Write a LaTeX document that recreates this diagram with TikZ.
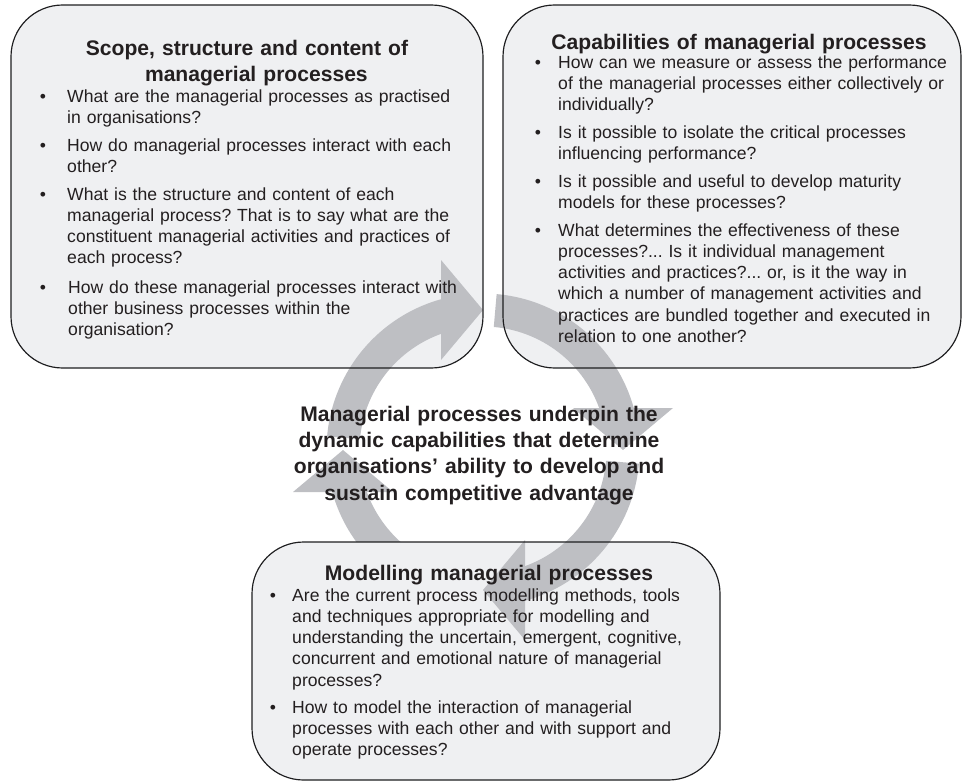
\documentclass[tikz,border=0pt]{standalone}
\usepackage{fontspec}
\setmainfont{Liberation Sans}
\usetikzlibrary{calc}
\definecolor{panelFill}{RGB}{239, 240, 242}
\definecolor{panelEdge}{RGB}{30, 30, 32}
\definecolor{ringGrey}{RGB}{190, 191, 195}
\definecolor{inkText}{RGB}{35, 31, 32}
\newcommand{\bodyfont}{\fontsize{15pt}{18.2pt}\selectfont}
\newcommand{\headfont}{\fontsize{18pt}{22.6pt}\selectfont\bfseries}
\frenchspacing

\begin{document}
\begin{tikzpicture}[
        x=0.03cm, y=-0.03cm,
        panel/.style={fill=panelFill, rounded corners=1.55cm},
        edge/.style={draw=panelEdge, line width=1pt, rounded corners=1.55cm},
        ringpart/.style={fill=ringGrey},
        head/.style={anchor=base, align=center, text width=14cm, inner sep=0pt, font=\headfont, text=inkText},
        question/.style={anchor=base west, align=left, text width=13cm, inner sep=0pt, font=\bodyfont, text=inkText},
        dot/.style={anchor=base, inner sep=0pt, font=\bodyfont, text=inkText}
    ]
        \useasboundingbox (0,0) rectangle (964,783);

        % Panel corners
        \coordinate (scopeNW) at (11,5);
        \coordinate (scopeSE) at (483,368);
        \coordinate (capabNW) at (503,5);
        \coordinate (capabSE) at (961,368);
        \coordinate (modelNW) at (252,542);
        \coordinate (modelSE) at (720,780);

        \fill[panel] (scopeNW) rectangle (scopeSE);
        \fill[panel] (capabNW) rectangle (capabSE);

        % Cycle arrows (clockwise), the lower left one sits under the bottom panel
        \begin{scope}[shift={(483,450)}, y=0.03cm]
            \foreach \s/\t in {175/90, 85/0, -95/-180}{
                \fill[ringpart] (\s:156.5) arc[start angle=\s, end angle=\t+15, radius=156.5]
                    -- (\t+15:123.5) arc[start angle=\t+15, end angle=\s, radius=123.5] -- cycle;
                \fill[ringpart] ($(\t:140)+(\t+90:42)+(\t:50)$) -- (\t:140) -- ($(\t:140)+(\t+90:42)+(\t:-50)$) -- cycle;
            }
        \end{scope}

        \fill[panel] (modelNW) rectangle (modelSE);

        \begin{scope}[shift={(483,450)}, y=0.03cm]
            \foreach \s/\t in {-5/-90}{
                \fill[ringpart] (\s:156.5) arc[start angle=\s, end angle=\t+15, radius=156.5]
                    -- (\t+15:123.5) arc[start angle=\t+15, end angle=\s, radius=123.5] -- cycle;
                \fill[ringpart] ($(\t:140)+(\t+90:42)+(\t:50)$) -- (\t:140) -- ($(\t:140)+(\t+90:42)+(\t:-50)$) -- cycle;
            }
        \end{scope}

        \draw[edge] (scopeNW) rectangle (scopeSE);
        \draw[edge] (capabNW) rectangle (capabSE);
        \draw[edge] (modelNW) rectangle (modelSE);

        % Scope, structure and content
        \node[head] (scopeHead) at (247,55) {Scope, structure and content of\\\hspace*{16pt}managerial processes};
        \foreach \y [count=\i] in {102,151,200,293}
            \node[dot] (scopeDot\i) at (43,\y) {\textbullet};
        \node[question] (scopeQ1) at (67,102) {What are the managerial processes as practised\\in organisations?};
        \node[question] (scopeQ2) at (67,151) {How do managerial processes interact with each\\other?};
        \node[question] (scopeQ3) at (67,200) {What is the structure and content of each\\managerial process? That is to say what are the\\constituent managerial activities and practices of\\each process?};
        \node[question] (scopeQ4) at (68,293) {How do these managerial processes interact with\\other business processes within the\\organisation?};

        % Capabilities
        \node[head] (capabHead) at (739,49) {Capabilities of managerial processes};
        \foreach \y [count=\i] in {68,138,187,236}
            \node[dot] (capabDot\i) at (538,\y) {\textbullet};
        \node[question] (capabQ1) at (558,68) {How can we measure or assess the performance\\of the managerial processes either collectively or\\individually?};
        \node[question] (capabQ2) at (558,138) {Is it possible to isolate the critical processes\\influencing performance?};
        \node[question] (capabQ3) at (558,187) {Is it possible and useful to develop maturity\\models for these processes?};
        \node[question] (capabQ4) at (558,236) {What determines the effectiveness of these\\processes?... Is it individual management\\activities and practices?... or, is it the way in\\which a number of management activities and\\practices are bundled together and executed in\\relation to one another?};

        % Modelling
        \node[head] (modelHead) at (489,580) {Modelling managerial processes};
        \foreach \y [count=\i] in {601,713}
            \node[dot] (modelDot\i) at (273,\y) {\textbullet};
        \node[question] (modelQ1) at (292,601) {Are the current process modelling methods, tools\\and techniques appropriate for modelling and\\understanding the uncertain, emergent, cognitive,\\concurrent and emotional nature of managerial\\processes?};
        \node[question] (modelQ2) at (292,713) {How to model the interaction of managerial\\processes with each other and with support and\\operate processes?};

        % Centre statement
        \node[head] (core) at (479,421) {Managerial processes underpin the\\dynamic capabilities that determine\\organisations’ ability to develop and\\sustain competitive advantage};
    \end{tikzpicture}
\end{document}
